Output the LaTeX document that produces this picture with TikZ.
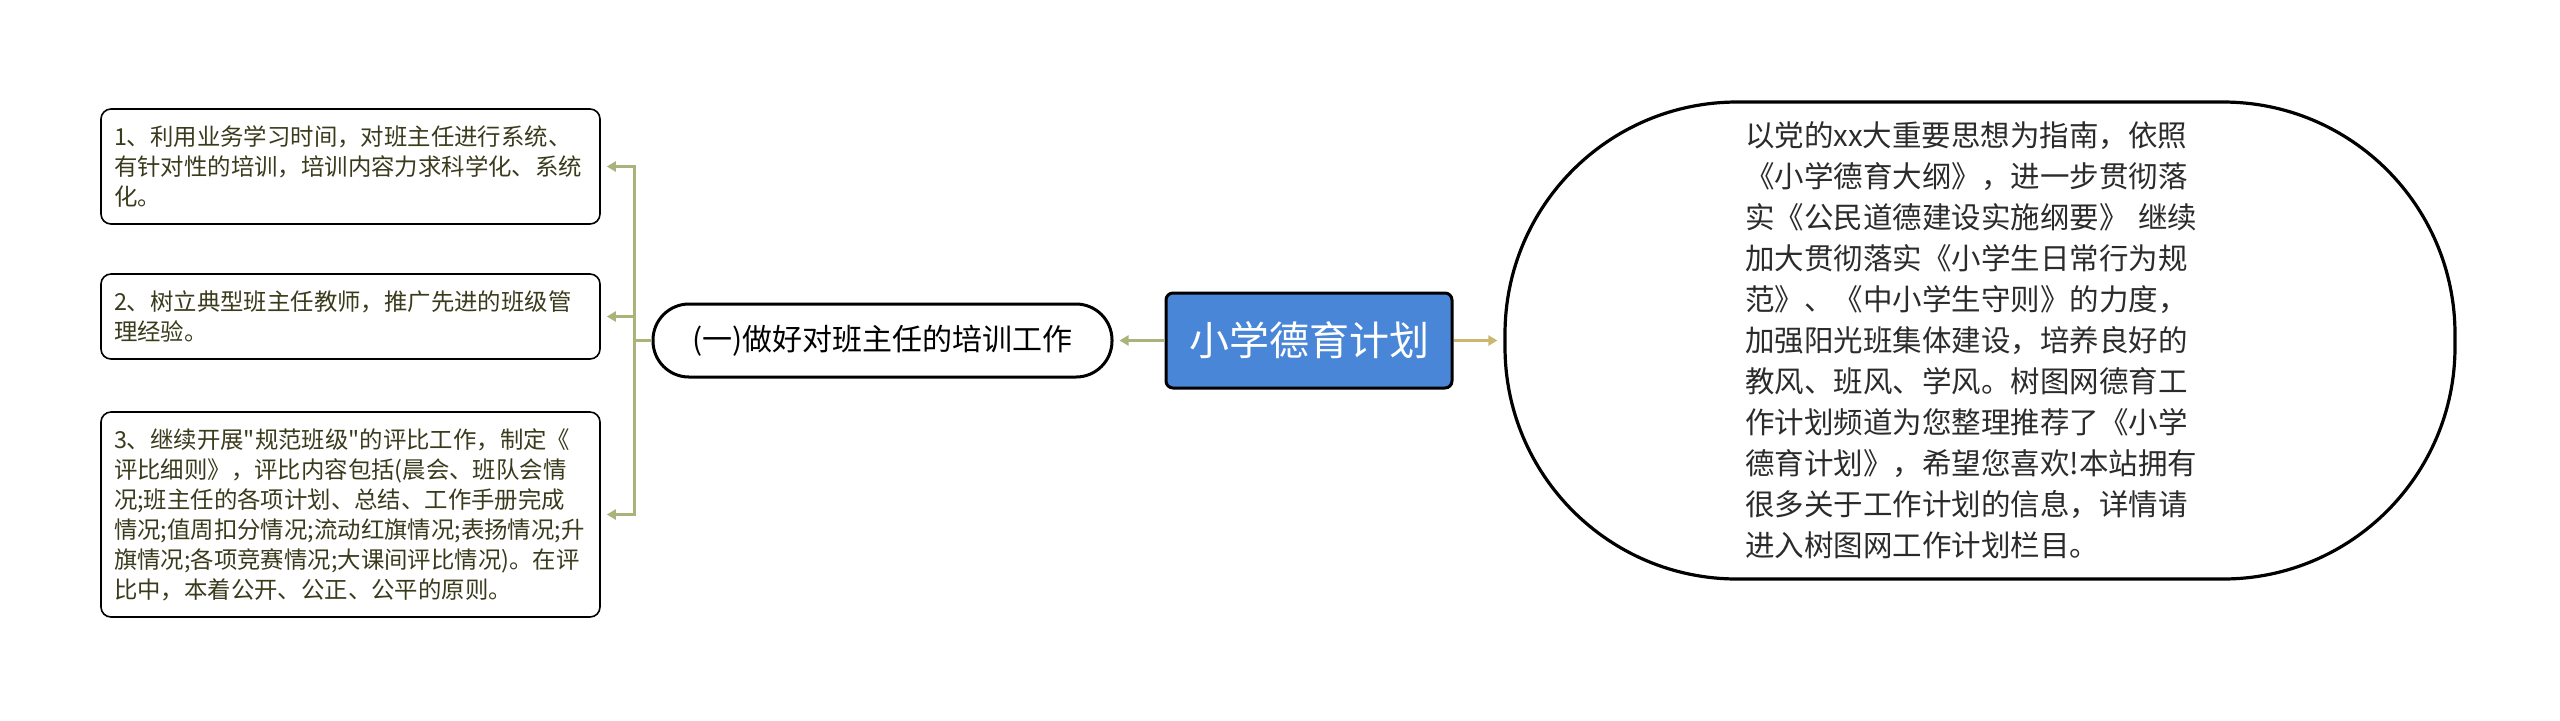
\documentclass[tikz,border=0pt]{standalone}
\usepackage{fontspec}
\setmainfont{Noto Sans CJK SC}[Ligatures=TeXOff]
\usetikzlibrary{arrows.meta}
\definecolor{leafolive}{HTML}{A8B47A}
\definecolor{notekhaki}{HTML}{CBB86E}
\definecolor{rootblue}{HTML}{4A86D8}
\definecolor{leaftext}{HTML}{3A3A1C}
\definecolor{notetext}{HTML}{2B2B2B}

\tikzset{
  leafbox/.style={draw=black, line width=0.8pt, rounded corners=5pt,
    text width=236.5pt, inner xsep=6.5pt, inner ysep=0pt, align=left,
    text=leaftext, font=\fontsize{11.7pt}{15pt}\selectfont},
  topicpill/.style={draw=black, line width=1.5pt, rounded corners=18pt,
    minimum width=229.5pt, minimum height=36.5pt, inner sep=0pt,
    font=\fontsize{15pt}{18pt}\selectfont},
  rootbox/.style={draw=black, fill=rootblue, line width=1.5pt, rounded corners=3.5pt,
    minimum width=143pt, minimum height=47.5pt, inner sep=0pt,
    text=white, font=\fontsize{20pt}{24pt}\selectfont},
  notebubble/.style={draw=black, line width=1.6pt, rounded corners=116pt,
    text width=235pt, inner xsep=120pt, inner ysep=0pt, minimum height=238.5pt,
    align=left, text=notetext, font=\fontsize{14.75pt}{20.5pt}\selectfont},
  link/.style={draw=leafolive, line width=1.5pt, shorten >=3pt,
    -{Triangle[length=4.5pt, width=5pt]}},
}

\begin{document}
\begin{tikzpicture}[x=0.5pt, y=-0.5pt]
  \useasboundingbox (0,0) rectangle (2560,720);

  % central topic and its note
  \node[rootbox] (root) at (1309,340.5) {小学德育计划};
  \node[notebubble] (note) at (1980,340.5) {%
    以党的xx大重要思想为指南，依照\\
    《小学德育大纲》，进一步贯彻落\\
    实《公民道德建设实施纲要》 继续\\
    加大贯彻落实《小学生日常行为规\\
    范》、《中小学生守则》的力度，\\
    加强阳光班集体建设，培养良好的\\
    教风、班风、学风。树图网德育工\\
    作计划频道为您整理推荐了《小学\\
    德育计划》，希望您喜欢!本站拥有\\
    很多关于工作计划的信息，详情请\\
    进入树图网工作计划栏目。};

  % branch
  \node[topicpill] (train) at (882.5,340.5) {(一)做好对班主任的培训工作};

  % leaves
  \node[leafbox, minimum height=57.5pt] (lead1) at (350.5,166.5) {%
    1、利用业务学习时间，对班主任进行系统、\\
    有针对性的培训，培训内容力求科学化、系统\\
    化。};
  \node[leafbox, minimum height=42.5pt] (lead2) at (350.5,316.5) {%
    2、树立典型班主任教师，推广先进的班级管\\
    理经验。};
  \node[leafbox, minimum height=102.5pt] (lead3) at (350.5,514.5) {%
    3、继续开展"规范班级"的评比工作，制定《\\
    评比细则》，评比内容包括(晨会、班队会情\\
    况;班主任的各项计划、总结、工作手册完成\\
    情况;值周扣分情况;流动红旗情况;表扬情况;升\\
    旗情况;各项竞赛情况;大课间评比情况)。在评\\
    比中，本着公开、公正、公平的原则。};

  % connectors
  \coordinate (fork) at (634,340.5);
  \draw[leafolive, line width=1.5pt] (train.west) -- (fork);
  \foreach \leaf in {lead1,lead2,lead3}
    \draw[link] (fork) |- (\leaf.east);
  \draw[link] (root.west) -- (train.east);
  \draw[link, draw=notekhaki] (root.east) -- (note.west);
\end{tikzpicture}
\end{document}
